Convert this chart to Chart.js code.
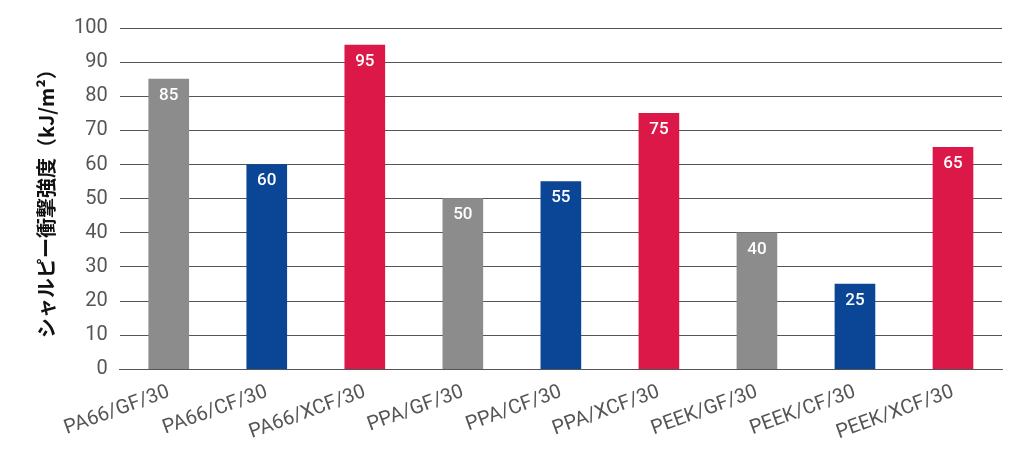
<!DOCTYPE html>
<html><head><meta charset="utf-8">
<script src="https://cdn.jsdelivr.net/npm/chart.js@4"></script>
<style>html,body{margin:0;padding:0;background:#fff}#w{width:1024px;height:458px}</style>
</head><body><div id="w"><canvas id="c"></canvas></div>
<script>
const categories=["PA66/GF/30","PA66/CF/30","PA66/XCF/30","PPA/GF/30","PPA/CF/30","PPA/XCF/30","PEEK/GF/30","PEEK/CF/30","PEEK/XCF/30"];
const values=[85,60,95,50,55,75,40,25,65];
const barColors=["#8c8c8c","#0b4596","#dc1849","#8c8c8c","#0b4596","#dc1849","#8c8c8c","#0b4596","#dc1849"];
const yTitle="シャルピー衝撃強度（kJ/m²）";
const labelPlugin={id:'lbl',afterDatasetsDraw(ch){const ctx=ch.ctx;const m=ch.getDatasetMeta(0);ctx.save();ctx.fillStyle='#fff';ctx.font='500 17px Roboto';ctx.textAlign='center';ctx.textBaseline='top';m.data.forEach((b,i)=>{ctx.fillText(String(values[i]),b.x,b.y+8);});ctx.restore();}};
new Chart(document.getElementById('c'),{type:'bar',data:{labels:categories,datasets:[{data:values,backgroundColor:barColors,barThickness:40}]},
options:{responsive:true,maintainAspectRatio:false,animation:false,layout:{padding:{top:28,right:22,left:30,bottom:10}},
plugins:{legend:{display:false},tooltip:{enabled:false}},
scales:{x:{grid:{display:false},border:{color:'#555'},ticks:{color:'#555',font:{family:'Roboto',size:20},maxRotation:20,minRotation:20}},
y:{min:0,max:100,ticks:{stepSize:10,color:'#555',font:{family:'Roboto',size:20},padding:12},grid:{color:'#555',drawTicks:false},border:{display:false},
title:{display:true,text:yTitle,color:'#111',font:{family:'Noto Sans CJK JP',size:20,weight:'bold'}}}}},plugins:[labelPlugin]});
</script></body></html>
